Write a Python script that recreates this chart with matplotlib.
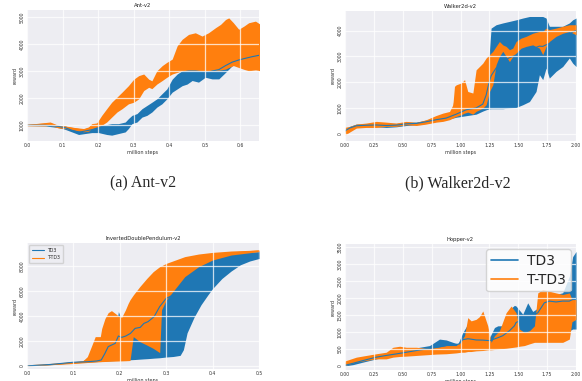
import matplotlib
matplotlib.use("Agg")
import matplotlib.pyplot as plt
import seaborn as sns
from matplotlib.lines import Line2D

sns.set_style("darkgrid")
plt.rcParams['font.family'] = ['DejaVu Sans']

C_TD3 = "#1f77b4"
C_TTD3 = "#ff7f0e"
labels = ["TD3", "T-TD3"]

# ---------------- Ant-v2 ----------------
ant_td3_x = [0, 0.051, 0.088, 0.107, 0.126, 0.145, 0.163, 0.182, 0.201, 0.224, 0.238, 0.257, 0.276, 0.285,
             0.295, 0.309, 0.323, 0.337, 0.351, 0.365, 0.379, 0.393, 0.408, 0.422, 0.436, 0.450, 0.464, 0.482,
             0.501, 0.520, 0.539, 0.558, 0.577, 0.596, 0.614, 0.633, 0.656]
ant_td3_lo = [990, 975, 915, 850, 755, 660, 695, 730, 730, 660, 635, 695, 755, 880, 1060, 1120, 1300, 1365,
              1490, 1670, 1790, 1975, 2220, 2340, 2460, 2520, 2650, 2590, 2770, 2710, 2710, 2950, 3200, 3320,
              3380, 3440, 3500]
ant_td3_hi = [1010, 1025, 1000, 975, 880, 820, 880, 940, 1000, 1025, 1060, 1060, 1120, 1245, 1365, 1430, 1610,
              1730, 1850, 1975, 2160, 2340, 2700, 2890, 3010, 3070, 3200, 3130, 3070, 3130, 3130, 3320, 3440,
              3500, 3560, 3620, 3660]
ant_td3_mean = [1000, 1000, 958, 912, 818, 740, 788, 835, 865, 842, 848, 878, 938, 1062, 1212, 1275, 1455, 1548,
                1670, 1822, 1975, 2158, 2460, 2615, 2735, 2795, 2925, 2860, 2920, 3000, 3050, 3200, 3330, 3410,
                3470, 3530, 3590]

ant_ttd3_x = [0, 0.051, 0.065, 0.088, 0.107, 0.135, 0.159, 0.173, 0.182, 0.196, 0.21, 0.224, 0.238, 0.253,
              0.267, 0.285, 0.3, 0.314, 0.328, 0.342, 0.351, 0.365, 0.38, 0.393, 0.408, 0.422, 0.436, 0.454,
              0.473, 0.492, 0.51, 0.53, 0.544, 0.558, 0.567, 0.58, 0.595, 0.61, 0.623, 0.642, 0.656]
ant_ttd3_lo = [980, 975, 1000, 900, 880, 820, 760, 780, 880, 940, 1000, 1120, 1300, 1490, 1610, 1790, 1850,
               1975, 2280, 2400, 2350, 2520, 2650, 2770, 2890, 2950, 3010, 3040, 3040, 3010, 3010, 3010, 3040,
               3070, 3130, 3200, 3130, 3060, 3010, 3040, 3010]
ant_ttd3_hi = [1030, 1100, 1120, 1000, 975, 915, 880, 940, 1060, 1085, 1365, 1610, 1850, 2040, 2220, 2460,
               2700, 2830, 2890, 2700, 2640, 3010, 3200, 3320, 3440, 3930, 4170, 4350, 4410, 4290, 4410, 4600,
               4720, 4900, 4960, 4780, 4540, 4660, 4780, 4840, 4720]
ant_ttd3_mean = [1000, 1040, 1060, 950, 930, 870, 820, 860, 970, 1010, 1180, 1360, 1570, 1760, 1910, 2120,
                 2270, 2400, 2580, 2550, 2500, 2760, 2920, 3040, 3160, 3440, 3590, 3700, 3720, 3650, 3710, 3800,
                 3880, 3980, 4040, 3990, 3840, 3860, 3900, 3940, 3860]

# ---------------- Walker2d-v2 ----------------
wk_td3_x = [0, 0.04, 0.098, 0.184, 0.271, 0.357, 0.444, 0.530, 0.617, 0.703, 0.79, 0.876, 0.963, 1.049,
            1.135, 1.193, 1.222, 1.245, 1.265, 1.308, 1.366, 1.424, 1.481, 1.539, 1.597, 1.654, 1.683, 1.712,
            1.741, 1.769, 1.827, 1.885, 1.942, 1.971, 2.0]
wk_td3_lo = [65, 155, 245, 270, 270, 245, 270, 320, 350, 400, 480, 545, 640, 700, 760, 880, 930, 960, 970, 970,
             970, 1000, 1020, 1125, 1250, 1640, 2290, 2100, 2550, 2160, 2420, 2610, 2940, 2740, 2610]
wk_td3_hi = [155, 285, 375, 390, 415, 400, 400, 450, 450, 530, 610, 670, 800, 1000, 1050, 1250, 1700, 2900,
             4100, 4230, 4300, 4360, 4420, 4490, 4550, 4550, 4550, 4550, 4490, 4170, 4170, 4170, 4300, 4420, 4490]
wk_td3_mean = [110, 220, 310, 330, 340, 320, 335, 385, 400, 465, 545, 608, 760, 930, 1000, 1150, 1500, 1950,
               2250, 2550, 2800, 2950, 3050, 3150, 3250, 3350, 3400, 3390, 3450, 3500, 3600, 3700, 3850, 3950, 4000]

wk_ttd3_x = [0, 0.04, 0.098, 0.184, 0.271, 0.357, 0.444, 0.530, 0.617, 0.703, 0.79, 0.847, 0.905, 0.934,
             0.948, 0.963, 1.006, 1.035, 1.063, 1.107, 1.135, 1.164, 1.193, 1.222, 1.251, 1.28, 1.308, 1.337,
             1.366, 1.395, 1.424, 1.452, 1.481, 1.524, 1.568, 1.625, 1.683, 1.712, 1.741, 1.769, 1.827, 1.885,
             1.942, 2.0]
wk_ttd3_lo = [-50, 65, 220, 245, 245, 285, 285, 350, 320, 375, 450, 480, 545, 610, 640, 670, 740, 800, 840, 760,
              870, 930, 1000, 1125, 1640, 1900, 2680, 3000, 3200, 3000, 2800, 3000, 3130, 3320, 3390, 3450, 3320,
              3070, 3390, 3580, 3780, 3900, 3970, 3840]
wk_ttd3_hi = [250, 285, 375, 415, 480, 450, 415, 480, 440, 545, 710, 800, 865, 1125, 1840, 1900, 1970, 2100,
              1640, 1580, 2480, 2610, 2740, 2940, 3070, 3200, 3390, 3580, 3450, 3390, 3260, 3320, 3580, 3710,
              3780, 3900, 3970, 3970, 4100, 4040, 4100, 4170, 4230, 4230]
wk_ttd3_mean = [100, 175, 300, 330, 360, 370, 350, 415, 380, 460, 580, 640, 700, 860, 1200, 1280, 1350, 1450,
                1240, 1170, 1680, 1770, 1870, 2030, 2350, 2550, 3030, 3290, 3320, 3190, 3030, 3160, 3350, 3510,
                3580, 3670, 3640, 3520, 3740, 3810, 3940, 4030, 4100, 4030]

# ---------------- InvertedDoublePendulum-v2 ----------------
idp_td3_x = [0, 0.05, 0.1, 0.13, 0.15, 0.16, 0.168, 0.175, 0.19, 0.197, 0.204, 0.213, 0.223, 0.233, 0.244,
             0.252, 0.261, 0.274, 0.286, 0.3, 0.315, 0.33, 0.337, 0.345, 0.36, 0.375, 0.39, 0.4, 0.42, 0.44,
             0.46, 0.48, 0.5]
idp_td3_mean = [10, 120, 300, 340, 400, 480, 1010, 1550, 1810, 2400, 2290, 2400, 2610, 3010, 3090, 3410, 3550,
                3950, 4750, 5410, 5680, 5950, 6150, 6500, 7000, 7450, 7800, 8000, 8300, 8550, 8750, 8900, 9000]
idp_td3_lo = [0, 100, 250, 300, 350, 380, 390, 410, 440, 450, 460, 480, 500, 520, 550, 570, 590, 630, 660, 720,
              760, 850, 1300, 2650, 3900, 4900, 5700, 6200, 7000, 7600, 8100, 8400, 8600]
idp_td3_hi = [30, 150, 350, 420, 500, 560, 1200, 1700, 2600, 4350, 3700, 4000, 4600, 5300, 5900, 6300, 6700,
              7100, 7500, 7900, 8200, 8400, 8450, 8500, 8650, 8750, 8850, 8900, 8970, 9030, 9080, 9120, 9150]

idp_ttd3_x = [0, 0.05, 0.1, 0.12, 0.13, 0.14, 0.147, 0.158, 0.161, 0.168, 0.175, 0.182, 0.19, 0.197, 0.204,
              0.212, 0.218, 0.222, 0.229, 0.243, 0.258, 0.272, 0.286, 0.29, 0.3, 0.32, 0.34, 0.37, 0.4, 0.44, 0.5]
idp_ttd3_hi = [20, 150, 330, 400, 750, 1680, 2350, 2350, 3000, 3800, 4270, 4430, 4210, 4000, 3900, 4480, 5010,
               5300, 5680, 6350, 7000, 7550, 7950, 8020, 8210, 8480, 8750, 8960, 9090, 9200, 9280]
idp_ttd3_lo = [0, 100, 200, 250, 280, 300, 320, 340, 350, 360, 370, 380, 390, 400, 410, 420, 430, 440, 2350,
               1950, 1680, 1410, 1070, 4500, 5280, 6210, 7150, 7950, 8480, 8880, 9150]
idp_ttd3_mean = [10, 120, 260, 320, 500, 900, 1200, 1300, 1600, 2000, 2300, 2400, 2300, 2200, 2150, 2400, 2700,
                 2900, 4000, 4150, 4350, 4500, 4500, 6300, 6750, 7350, 7950, 8450, 8780, 9040, 9210]

# ---------------- Hopper-v2 ----------------
hop_td3_x = [0, 0.069, 0.156, 0.271, 0.357, 0.444, 0.559, 0.646, 0.732, 0.818, 0.876, 0.934, 0.977, 0.991,
             1.02, 1.049, 1.063, 1.078, 1.135, 1.193, 1.251, 1.294, 1.323, 1.366, 1.424, 1.467, 1.481, 1.539,
             1.582, 1.625, 1.669, 1.726, 1.769, 1.827, 1.885, 1.942, 1.971, 2.0]
hop_td3_lo = [0, 40, 115, 210, 260, 310, 360, 405, 425, 485, 520, 500, 485, 500, 500, 550, 560, 580, 620, 650,
              650, 600, 650, 695, 695, 750, 790, 985, 985, 1085, 1100, 1150, 1200, 1200, 1150, 1035, 1085, 1085]
hop_td3_hi = [70, 115, 210, 310, 360, 405, 500, 550, 600, 790, 765, 695, 650, 750, 985, 1150, 1230, 890, 900,
              850, 830, 1130, 1180, 1180, 1660, 1780, 1760, 1520, 1855, 1600, 1700, 2000, 2100, 2100, 2150, 2630,
              3210, 3360]
hop_td3_mean = [20, 80, 160, 260, 310, 355, 420, 470, 510, 560, 600, 620, 640, 650, 775, 790, 800, 795, 765,
                760, 745, 795, 830, 890, 1035, 1180, 1275, 1375, 1420, 1470, 1560, 1855, 1905, 1880, 1905, 1905,
                1950, 2000]

hop_ttd3_x = [0, 0.098, 0.184, 0.271, 0.357, 0.415, 0.473, 0.530, 0.617, 0.703, 0.79, 0.876, 0.963, 1.006,
              1.035, 1.063, 1.092, 1.135, 1.164, 1.193, 1.236, 1.265, 1.294, 1.337, 1.395, 1.438, 1.481, 1.51,
              1.553, 1.597, 1.64, 1.669, 1.712, 1.769, 1.827, 1.885, 1.942, 1.965, 2.0]
hop_ttd3_lo = [20, 115, 165, 210, 210, 260, 280, 290, 310, 330, 350, 360, 385, 405, 405, 425, 425, 445, 450,
               455, 475, 475, 485, 505, 520, 540, 560, 580, 600, 650, 695, 695, 695, 695, 695, 695, 790, 1300, 1370]
hop_ttd3_hi = [150, 260, 310, 360, 405, 550, 580, 550, 550, 520, 550, 600, 600, 745, 890, 1420, 1325, 1370,
               1450, 1615, 1180, 695, 890, 1035, 1565, 1760, 1565, 1085, 985, 1035, 1180, 2145, 2245, 2195, 2145,
               2100, 2145, 1950, 1950]
hop_ttd3_mean = [80, 180, 235, 280, 300, 380, 420, 410, 420, 420, 450, 480, 490, 560, 640, 900, 850, 880, 920,
                 1000, 800, 580, 690, 780, 1050, 1150, 1050, 830, 790, 840, 940, 1400, 1450, 1450, 1420, 1400,
                 1450, 1600, 1650]

W, H = 582.0, 381.0


def pos(l, r, t, b):
    return [l / W, 1 - b / H, (r - l) / W, (b - t) / H]


fig = plt.figure(figsize=(5.82, 3.81), dpi=100)

panels = [
    dict(title="Ant-v2", rect=pos(27, 259, 10, 141), xlim=(0, 0.652), ylim=(420, 5250),
         xticks=[0, 0.1, 0.2, 0.3, 0.4, 0.5, 0.6], xfmt="{:.1f}", yticks=[1000, 2000, 3000, 4000, 5000],
         td3=(ant_td3_x, ant_td3_lo, ant_td3_hi, ant_td3_mean),
         ttd3=(ant_ttd3_x, ant_ttd3_lo, ant_ttd3_hi, ant_ttd3_mean), legend=None),
    dict(title="Walker2d-v2", rect=pos(345, 576, 10.7, 140.7), xlim=(0, 2.0), ylim=(-270, 4775),
         xticks=[0, 0.25, 0.5, 0.75, 1.0, 1.25, 1.5, 1.75, 2.0], xfmt="{:.2f}", yticks=[0, 1000, 2000, 3000, 4000],
         td3=(wk_td3_x, wk_td3_lo, wk_td3_hi, wk_td3_mean),
         ttd3=(wk_ttd3_x, wk_ttd3_lo, wk_ttd3_hi, wk_ttd3_mean), legend=None),
    dict(title="InvertedDoublePendulum-v2", rect=pos(27, 259, 243, 369), xlim=(0, 0.5), ylim=(-240, 9840),
         xticks=[0, 0.1, 0.2, 0.3, 0.4, 0.5], xfmt="{:.1f}", yticks=[0, 2000, 4000, 6000, 8000],
         td3=(idp_td3_x, idp_td3_lo, idp_td3_hi, idp_td3_mean),
         ttd3=(idp_ttd3_x, idp_ttd3_lo, idp_ttd3_hi, idp_ttd3_mean), legend="small"),
    dict(title="Hopper-v2", rect=pos(345, 576, 244, 370), xlim=(0, 2.0), ylim=(-117, 3581),
         xticks=[0, 0.25, 0.5, 0.75, 1.0, 1.25, 1.5, 1.75, 2.0], xfmt="{:.2f}",
         yticks=[0, 500, 1000, 1500, 2000, 2500, 3000, 3500],
         td3=(hop_td3_x, hop_td3_lo, hop_td3_hi, hop_td3_mean),
         ttd3=(hop_ttd3_x, hop_ttd3_lo, hop_ttd3_hi, hop_ttd3_mean), legend="big"),
]

TICK_FS = 3.3
for p in panels:
    ax = fig.add_axes(p["rect"])
    ax.set_facecolor("#EDEDF2")
    x, lo, hi, m = p["td3"]
    ax.fill_between(x, lo, hi, color=C_TD3, lw=0, zorder=1)
    x2, lo2, hi2, m2 = p["ttd3"]
    ax.fill_between(x2, lo2, hi2, color=C_TTD3, lw=0, zorder=1.1)
    ax.plot(x2, m2, color=C_TTD3, lw=0.8, zorder=1.05)
    ax.plot(x, m, color=C_TD3, lw=0.8, zorder=1.2)
    ax.set_xlim(*p["xlim"])
    ax.set_ylim(*p["ylim"])
    ax.set_xticks(p["xticks"])
    ax.set_xticklabels([p["xfmt"].format(v) for v in p["xticks"]])
    ax.set_yticks(p["yticks"])
    ax.set_yticklabels([str(v) for v in p["yticks"]], rotation=90, va="center")
    ax.tick_params(length=0, pad=1.5, labelsize=TICK_FS, colors="#333333")
    ax.grid(True, color="white", lw=0.9, alpha=0.75, zorder=2)
    ax.set_axisbelow(False)
    for s in ax.spines.values():
        s.set_visible(False)
    ax.set_title(p["title"], fontsize=3.8, pad=2, color="#222222")
    ax.set_xlabel("million steps", fontsize=3.5, labelpad=1.5, color="#333333")
    ax.set_ylabel("reward", fontsize=3.5, labelpad=1.5, color="#333333")
    handles = [Line2D([], [], color=C_TD3, lw=0.8), Line2D([], [], color=C_TTD3, lw=0.8)]
    if p["legend"] == "small":
        ax.legend(handles, labels, loc="upper left", fontsize=3.3, frameon=True, facecolor="#EDEDF2",
                  edgecolor="#cccccc", borderpad=0.6, handlelength=2.5)
    elif p["legend"] == "big":
        leg = ax.legend(handles, labels, loc="upper right", fontsize=10, frameon=True, facecolor="white",
                        edgecolor="#cccccc", handlelength=1.9, handletextpad=0.7, borderaxespad=0.35,
                        borderpad=0.35, labelspacing=0.35)
        leg.set_zorder(5)
        for ln in leg.get_lines():
            ln.set_linewidth(1.2)

fig.text(143 / W, 1 - 183 / H, "(a) Ant-v2", ha="center", va="center", fontsize=11.5,
         family=["Liberation Serif", "DejaVu Serif"])
fig.text(458 / W, 1 - 183 / H, "(b) Walker2d-v2", ha="center", va="center", fontsize=11.5,
         family=["Liberation Serif", "DejaVu Serif"])

fig.savefig("out.png", dpi=100)
